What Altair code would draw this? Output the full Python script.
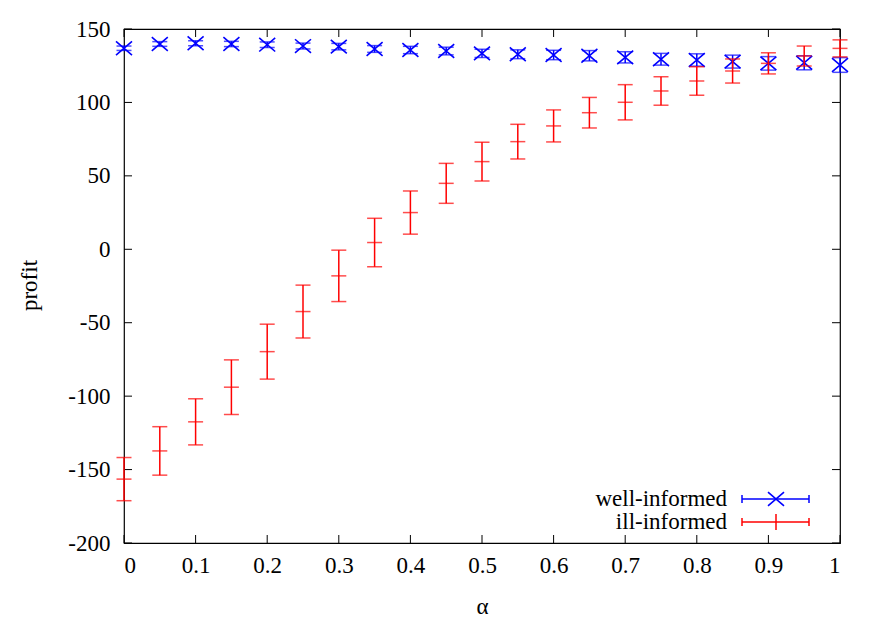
import altair as alt
import pandas as pd

alpha = [0.0, 0.05, 0.1, 0.15, 0.2, 0.25, 0.3, 0.35, 0.4, 0.45, 0.5,
         0.55, 0.6, 0.65, 0.7, 0.75, 0.8, 0.85, 0.9, 0.95, 1.0]

well_val = [136.9, 139.8, 140.3, 139.8, 139.3, 138.4, 138.0, 136.4, 135.7, 135.0, 133.4,
            132.8, 132.3, 131.8, 130.7, 129.4, 128.9, 127.8, 126.6, 127.0, 125.5]
well_err = [1.5, 1.6, 1.7, 1.8, 1.9, 2.0, 2.2, 2.3, 2.5, 2.6, 2.8,
            3.0, 3.2, 3.5, 3.8, 4.0, 4.2, 4.4, 4.6, 4.8, 5.0]

ill_val = [-156.5, -137.3, -117.5, -93.9, -69.7, -42.4, -18.1, 4.6, 25.0, 44.9, 59.7,
           73.3, 84.0, 93.0, 100.1, 107.8, 114.6, 121.4, 126.6, 131.6, 136.8]
ill_err = [14.7, 16.5, 15.7, 18.6, 18.7, 18.0, 17.5, 16.5, 14.7, 13.6, 13.2,
           11.8, 10.9, 10.4, 12.0, 9.7, 9.7, 8.2, 7.2, 6.8, 5.8]

series_names = ["well-informed", "ill-informed"]
series_colors = ["#0000ff", "#ff0000"]

x_ticks = [0.0, 0.1, 0.2, 0.3, 0.4, 0.5, 0.6, 0.7, 0.8, 0.9, 1.0]
y_ticks = [-200, -150, -100, -50, 0, 50, 100, 150]

W, H = 716, 514
FONT = "Liberation Serif"
FS = 23

xs = alt.Scale(domain=[0, 1], nice=False, zero=False)
ys = alt.Scale(domain=[-200, 150], nice=False, zero=False)

well_df = pd.DataFrame({"alpha": alpha, "value": well_val, "err": well_err})
ill_df = pd.DataFrame({"alpha": alpha, "value": ill_val, "err": ill_err})

X_SHAPE = "M-1,-0.85L1,0.85M-1,0.85L1,-0.85"


def series_layers(df, color, marker):
    base = alt.Chart(df).transform_calculate(
        lo="datum.value - datum.err", hi="datum.value + datum.err"
    )
    rule = base.mark_rule(color=color, strokeWidth=1.5).encode(
        x=alt.X("alpha:Q", scale=xs,
                axis=alt.Axis(values=x_ticks, labelExpr="toString(datum.value)", title="α",
                              ticks=False, domain=False, grid=False,
                              labelFont=FONT, labelFontSize=FS, labelColor="black",
                              labelPadding=11,
                              titleFont=FONT, titleFontSize=FS, titleFontWeight="normal",
                              titleColor="black", titleX=358, titleY=63,
                              titleBaseline="middle", titleAlign="center")),
        y=alt.Y("lo:Q", scale=ys,
                axis=alt.Axis(values=y_ticks, labelExpr="toString(datum.value)", title="profit",
                              ticks=False, domain=False, grid=False,
                              labelFont=FONT, labelFontSize=FS, labelColor="black",
                              labelPadding=14,
                              titleFont=FONT, titleFontSize=FS, titleFontWeight="normal",
                              titleColor="black", titleX=-95, titleY=256,
                              titleAngle=270, titleBaseline="middle", titleAlign="center")),
        y2="hi:Q",
    )
    cap_lo = base.mark_tick(color=color, orient="horizontal", size=15, thickness=1.5).encode(
        x=alt.X("alpha:Q", scale=xs), y=alt.Y("lo:Q", scale=ys))
    cap_hi = base.mark_tick(color=color, orient="horizontal", size=15, thickness=1.5).encode(
        x=alt.X("alpha:Q", scale=xs), y=alt.Y("hi:Q", scale=ys))
    if marker == "x":
        center = base.mark_point(shape=X_SHAPE, size=256, filled=False, color=color,
                                 strokeWidth=1.6, opacity=1).encode(
            x=alt.X("alpha:Q", scale=xs), y=alt.Y("value:Q", scale=ys))
    else:
        center = base.mark_tick(color=color, orient="horizontal", size=15, thickness=1.5).encode(
            x=alt.X("alpha:Q", scale=xs), y=alt.Y("value:Q", scale=ys))
    return [rule, cap_lo, cap_hi, center]


# inward ticks on all four sides
xt_df = pd.DataFrame({"t": x_ticks})
yt_df = pd.DataFrame({"t": y_ticks})
TL = 8
tick_layers = [
    alt.Chart(xt_df).mark_rule(color="black", strokeWidth=1).encode(
        x=alt.X("t:Q", scale=xs), y=alt.value(H), y2=alt.value(H - TL)),
    alt.Chart(xt_df).mark_rule(color="black", strokeWidth=1).encode(
        x=alt.X("t:Q", scale=xs), y=alt.value(0), y2=alt.value(TL)),
    alt.Chart(yt_df).mark_rule(color="black", strokeWidth=1).encode(
        y=alt.Y("t:Q", scale=ys), x=alt.value(0), x2=alt.value(TL)),
    alt.Chart(yt_df).mark_rule(color="black", strokeWidth=1).encode(
        y=alt.Y("t:Q", scale=ys), x=alt.value(W), x2=alt.value(W - TL)),
]

# legend (bottom right, inside plot)
legend_layers = []
leg_y = [470, 493]
markers = ["x", "+"]
for name, col, ly, mk in zip(series_names, series_colors, leg_y, markers):
    ldf = pd.DataFrame({"name": [name]})
    lb = alt.Chart(ldf)
    legend_layers.append(lb.mark_text(align="right", baseline="middle", font=FONT,
                                      fontSize=FS, color="black").encode(
        text="name:N", x=alt.value(603), y=alt.value(ly)))
    legend_layers.append(lb.mark_rule(color=col, strokeWidth=1.5).encode(
        x=alt.value(618), x2=alt.value(685), y=alt.value(ly)))
    legend_layers.append(lb.mark_rule(color=col, strokeWidth=1.5).encode(
        x=alt.value(618), y=alt.value(ly - 4), y2=alt.value(ly + 4)))
    legend_layers.append(lb.mark_rule(color=col, strokeWidth=1.5).encode(
        x=alt.value(685), y=alt.value(ly - 4), y2=alt.value(ly + 4)))
    if mk == "x":
        legend_layers.append(lb.mark_point(shape=X_SHAPE, size=256, filled=False, color=col,
                                           strokeWidth=1.6, opacity=1).encode(
            x=alt.value(652), y=alt.value(ly)))
    else:
        legend_layers.append(lb.mark_rule(color=col, strokeWidth=1.5).encode(
            x=alt.value(652), y=alt.value(ly - 8), y2=alt.value(ly + 8)))

layers = (tick_layers
          + series_layers(well_df, series_colors[0], "x")
          + series_layers(ill_df, series_colors[1], "+")
          + legend_layers)

chart = alt.layer(*layers).properties(
    width=W, height=H,
    autosize=alt.AutoSizeParams(type="none"),
    padding={"left": 116, "top": 21, "right": 30, "bottom": 74},
    background="white",
).configure_view(stroke="black", strokeWidth=1.2)

chart.save("out.html", embed_options={"renderer": "svg", "actions": False})
